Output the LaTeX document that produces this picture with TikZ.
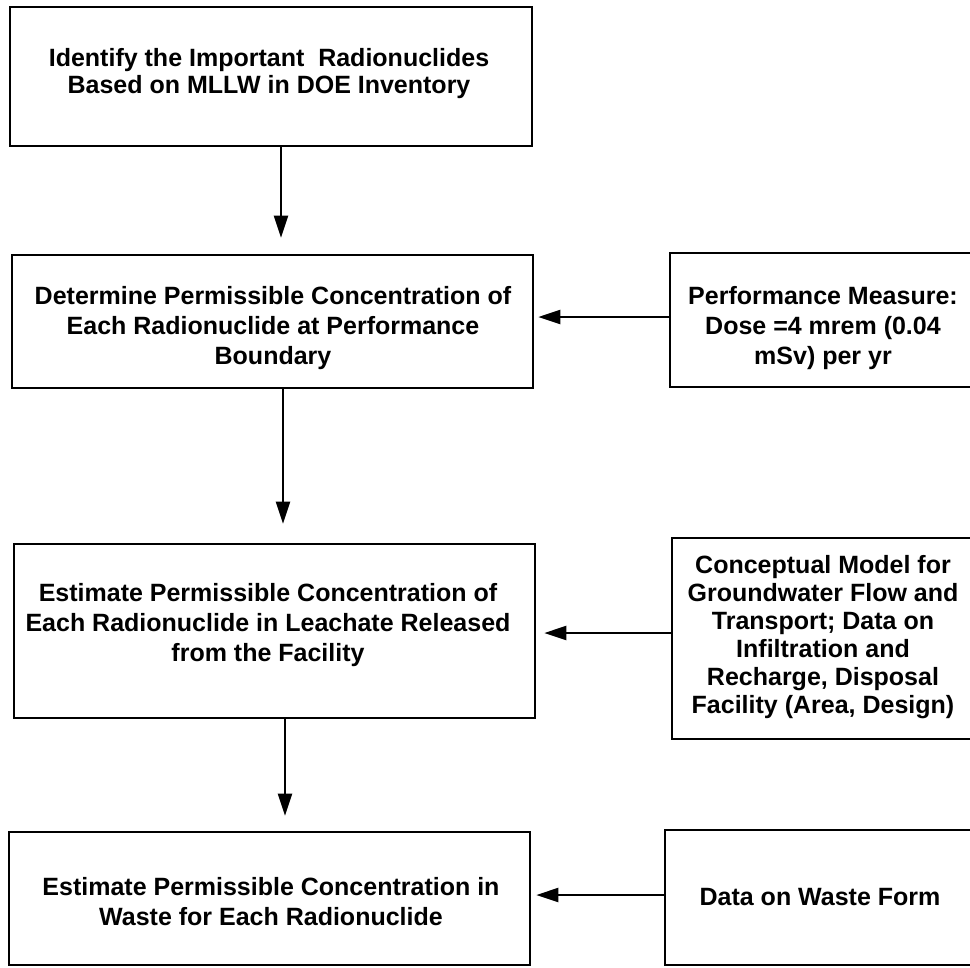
\documentclass[tikz,border=0pt]{standalone}
\usepackage{fontspec}
\setmainfont{Liberation Sans}
\usetikzlibrary{arrows.meta,calc}

\begin{document}
\begin{tikzpicture}[x=0.75pt,y=-0.75pt,
  box/.style={draw=black, line width=2pt, rectangle, inner sep=0pt},
  txt/.style={align=center, inner sep=0pt, font=\bfseries\fontsize{18.75}{22.5}\selectfont},
  flow/.style={line width=1.6pt, -{Triangle[length=16.5pt,width=10.5pt]}},
]
\useasboundingbox (0,0) rectangle (970,967);
\fill[white] (0,0) rectangle (970,967);

% main column of process steps
\node[box, minimum width=391.5pt, minimum height=104.25pt] (b1) at (271,76.5) {};
\node[box, minimum width=390.75pt, minimum height=99.75pt] (b2) at (272.5,321.5) {};
\node[box, minimum width=390.75pt, minimum height=130.5pt] (b3) at (274.5,631) {};
\node[box, minimum width=390.75pt, minimum height=99.75pt] (b4) at (269.5,898.5) {};

% input boxes on the right
\node[box, minimum width=228.75pt, minimum height=100.5pt] (rA) at (822.5,320) {};
\node[box, minimum width=227.25pt, minimum height=150.75pt] (rB) at (823.5,638.5) {};
\node[box, minimum width=232.5pt, minimum height=101.25pt] (rC) at (820,897.5) {};

% box texts
\node[txt, font=\bfseries\fontsize{18.75}{20.25}\selectfont] (t1) at (269,74)
  {Identify the Important\ \ Radionuclides\\Based on MLLW in DOE Inventory};
\node[txt] (t2) at (273,328)
  {Determine Permissible Concentration of\\Each Radionuclide at Performance\\Boundary};
\node[txt] (t3) at (268,625)
  {Estimate Permissible Concentration of\\Each Radionuclide in Leachate Released\\from the Facility};
\node[txt] (t4) at (271,902)
  {Estimate Permissible Concentration in\\Waste for Each Radionuclide};
\node[txt] (tA) at (823,328)
  {Performance Measure:\\Dose =4 mrem (0.04\\mSv) per yr};
\node[txt, font=\bfseries\fontsize{18.75}{21}\selectfont] (tB) at (823,637)
  {Conceptual Model for\\Groundwater Flow and\\Transport; Data on\\Infiltration and\\Recharge, Disposal\\Facility (Area, Design)};
\node[txt] (tC) at (820,897) {Data on Waste Form};

% vertical flow between steps
\coordinate (s1) at ($(b1.south)+(10,0)$);
\coordinate (s2) at ($(b2.south)+(10.5,0)$);
\coordinate (s3) at ($(b3.south)+(10.5,0)$);
\draw[flow, shorten >=12pt] (s1) -- (s1 |- b2.north);
\draw[flow, shorten >=14.25pt] (s2) -- (s2 |- b3.north);
\draw[flow, shorten >=11.25pt] (s3) -- (s3 |- b4.north);

% inputs feeding the steps
\coordinate (hA) at ($(rA.west)+(0,-3)$);
\coordinate (hB) at ($(rB.west)+(0,-5.5)$);
\coordinate (hC) at ($(rC.west)+(0,-2.5)$);
\draw[flow, shorten >=3pt] (hA) -- (hA -| b2.east);
\draw[flow, shorten >=6pt] (hB) -- (hB -| b3.east);
\draw[flow, shorten >=3.75pt] (hC) -- (hC -| b4.east);
\end{tikzpicture}
\end{document}
